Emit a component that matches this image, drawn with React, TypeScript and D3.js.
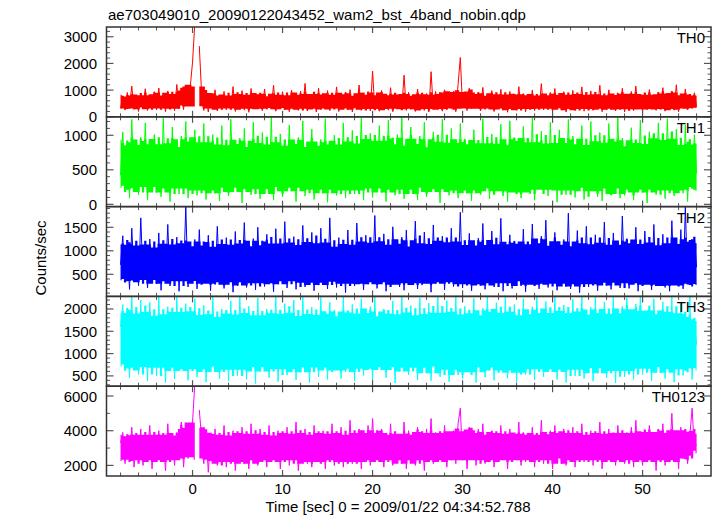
import React from "react";
import * as d3 from "d3";

// ---- data (sampling grid: t = T0 + DT * index) ----
const T0 = -8;
const DT = 0.25;

const panelNames = ["TH0", "TH1", "TH2", "TH3", "TH0123"];
const panelColors = ["#ff0000", "#00ff00", "#0000ff", "#00ffff", "#ff00ff"];
const yDomains: [number, number][] = [[0, 3365], [-33, 1268], [30, 1940], [269, 2282], [1389, 6565]];
const yMajorTicks = [[0, 1000, 2000, 3000], [0, 500, 1000], [500, 1000, 1500], [500, 1000, 1500, 2000], [2000, 4000, 6000]];
const yMinorSteps = [200, 100, 100, 100, 1000];
const xMajorTicks = [0, 10, 20, 30, 40, 50];

const th0: (number | null)[] = [
  320, 780, 250, 910, 410, 1150, 280, 690, 200, 860, 350, 1050, 240, 720, 380, 940,
  260, 1080, 310, 820, 190, 970, 430, 760, 230, 1210, 300, 880, 270, 990, 420, 1150,
  2050, 3500, null, 2650, 900, 240, 700, 180, 840, 330, 1010, 220, 760, 390, 950, 260,
  820, 310, 1130, 200, 690, 360, 980, 250, 870, 170, 1060, 300, 740, 410, 900, 230,
  1040, 280, 790, 350, 1180, 210, 680, 330, 940, 260, 850, 190, 1000, 370, 720, 240,
  960, 300, 1250, 220, 780, 340, 890, 180, 1070, 270, 730, 390, 980, 230, 860, 310,
  1120, 200, 760, 350, 930, 260, 1020, 180, 810, 320, 1190, 240, 700, 380, 950, 220,
  1710, 290, 840, 210, 990, 340, 760, 250, 1090, 190, 880, 300, 730, 360, 1560, 240,
  920, 280, 800, 200, 1040, 330, 760, 240, 870, 180, 1690, 290, 950, 350, 720, 210,
  1010, 260, 830, 310, 960, 190, 1210, 2220, 340, 880, 230, 1070, 300, 760, 380, 930,
  220, 1100, 270, 810, 350, 980, 200, 740, 310, 1030, 250, 860, 170, 950, 330, 790,
  240, 1130, 290, 870, 190, 760, 360, 1000, 230, 820, 300, 1240, 260, 700, 340, 910,
  200, 1060, 320, 780, 250, 940, 180, 850, 370, 990, 230, 730, 290, 1120, 210, 860,
  340, 970, 240, 760, 300, 1180, 190, 830, 260, 1010, 350, 720, 220, 900, 310, 1070,
  180, 800, 280, 950, 230, 1150, 330, 740, 200, 880, 270, 1020, 360, 690, 240, 930,
  290, 1090, 210, 780, 340, 960, 250, 1200, 190, 820, 310, 1040, 260, 740, 350, 900,
  380,
];

const th1: (number | null)[] = [
  420, 1050, 180, 880, 90, 1230, 300, 760, 140, 970, 250, 1180, 60, 820, 340, 1010,
  170, 900, 110, 1250, 280, 740, 40, 1120, 230, 860, 150, 990, 320, 1200, 90, 780,
  260, 1080, 130, 940, 200, 1170, 70, 830, 290, 1010, 160, 720, 50, 1140, 240, 890,
  120, 1230, 310, 800, 180, 960, 20, 1100, 270, 850, 140, 1190, 220, 760, 80, 1040,
  300, 910, 150, 1260, 60, 790, 250, 1020, 110, 880, 330, 1150, 190, 740, 40, 970,
  240, 1210, 120, 860, 280, 1090, 70, 780, 210, 940, 160, 1240, 30, 830, 300, 1000,
  130, 890, 250, 1180, 90, 760, 200, 1070, 150, 920, 320, 1250, 60, 810, 230, 1030,
  100, 960, 280, 1140, 170, 850, 40, 1220, 260, 790, 130, 1010, 210, 1260, 80, 880,
  290, 1120, 150, 770, 60, 990, 240, 1190, 110, 860, 310, 1050, 180, 740, 20, 1230,
  220, 930, 130, 1100, 270, 820, 90, 1170, 200, 950, 160, 780, 50, 1080, 300, 900,
  140, 1240, 230, 860, 80, 1020, 190, 750, 310, 1160, 120, 890, 40, 1210, 260, 970,
  170, 800, 90, 1130, 250, 940, 150, 1250, 60, 830, 290, 1060, 210, 770, 120, 1190,
  280, 910, 30, 1080, 200, 850, 140, 1230, 240, 990, 100, 760, 320, 1140, 70, 880,
  190, 1200, 260, 820, 110, 1040, 50, 930, 300, 1170, 150, 790, 230, 1260, 90, 960,
  130, 870, 270, 1110, 60, 780, 210, 1220, 170, 900, 20, 1050, 290, 830, 140, 1180,
  250, 990, 80, 1240, 200, 760, 120, 1090, 310, 880, 160, 1150, 40, 820, 230, 1010,
  450,
];

const th2: (number | null)[] = [
  700, 1320, 330, 1050, 180, 1480, 420, 1150, 260, 1700, 380, 980, 210, 1250, 450, 1100,
  300, 1380, 160, 1020, 400, 1560, 250, 1180, 350, 1290, 140, 1050, 470, 1940, 230, 1120,
  360, 1240, 190, 1450, 300, 990, 420, 1330, 150, 1100, 280, 1520, 390, 1060, 200, 1280,
  330, 1170, 120, 1410, 260, 1040, 440, 1600, 220, 1130, 370, 1260, 170, 1500, 310, 980,
  240, 1350, 400, 1090, 130, 1470, 290, 1190, 350, 1620, 210, 1010, 430, 1300, 180, 1150,
  380, 1540, 230, 1070, 320, 1390, 150, 1210, 270, 1480, 400, 1030, 190, 1700, 340, 1120,
  220, 1280, 360, 1010, 110, 1440, 300, 1160, 250, 1590, 420, 1080, 170, 1330, 290, 1220,
  390, 1750, 200, 1050, 330, 1360, 140, 1170, 280, 1510, 410, 1000, 230, 1290, 160, 1440,
  310, 1110, 380, 1630, 190, 1060, 270, 1400, 350, 1190, 120, 1550, 300, 1040, 420, 1310,
  170, 1230, 330, 1480, 240, 1090, 390, 1820, 210, 1140, 290, 1370, 150, 1060, 360, 1270,
  260, 1580, 180, 1030, 400, 1420, 230, 1160, 310, 1690, 140, 1100, 370, 1340, 200, 1210,
  350, 1020, 250, 1460, 130, 1180, 410, 1570, 280, 1070, 190, 1310, 330, 1650, 220, 1130,
  300, 1390, 160, 1050, 370, 1240, 240, 1800, 190, 1120, 340, 1430, 110, 1060, 290, 1520,
  230, 1180, 380, 1340, 150, 1010, 320, 1610, 260, 1150, 180, 1380, 400, 1090, 210, 1740,
  360, 1260, 200, 1050, 310, 1500, 140, 1200, 280, 1420, 390, 1030, 170, 1560, 250, 1140,
  330, 1350, 220, 1080, 140, 1640, 370, 1170, 260, 1450, 190, 1940, 310, 1100, 240, 1290,
  650,
];

const th3: (number | null)[] = [
  1600, 2100, 620, 1800, 450, 2280, 800, 1950, 530, 2200, 700, 1750, 390, 2150, 860, 1900,
  500, 2280, 680, 1700, 350, 2050, 760, 1850, 430, 2280, 610, 1980, 780, 2120, 400, 1800,
  650, 2230, 470, 1900, 820, 2080, 360, 1760, 590, 2280, 710, 1850, 440, 2000, 760, 1700,
  380, 2180, 640, 1930, 500, 2280, 820, 1780, 420, 2060, 700, 1880, 330, 2250, 600, 1820,
  730, 2000, 460, 1720, 800, 2280, 370, 1950, 650, 2120, 520, 1790, 880, 2200, 410, 1860,
  580, 2280, 720, 1810, 350, 2040, 690, 1900, 480, 2260, 800, 1750, 420, 2150, 620, 1980,
  760, 1880, 440, 2280, 590, 1760, 850, 2100, 380, 1940, 660, 2230, 510, 1820, 740, 2050,
  400, 2280, 630, 1850, 780, 2000, 460, 1700, 700, 2180, 340, 1930, 600, 2280, 820, 1790,
  520, 2080, 680, 1900, 410, 2250, 750, 1770, 560, 2130, 390, 1860, 710, 2280, 480, 1950,
  800, 2190, 370, 1800, 640, 2280, 520, 1920, 430, 2060, 760, 1740, 580, 2240, 350, 1880,
  690, 2020, 470, 2280, 810, 1830, 400, 2140, 620, 1960, 740, 2280, 450, 1790, 570, 2100,
  360, 1900, 700, 2230, 530, 1780, 820, 2050, 410, 2280, 650, 1850, 480, 2170, 760, 1940,
  590, 2280, 420, 1810, 730, 2090, 350, 1970, 640, 2220, 500, 1760, 790, 2280, 440, 1890,
  670, 2040, 380, 2280, 560, 1840, 810, 2160, 460, 1920, 720, 2280, 340, 1800, 610, 2060,
  480, 2250, 750, 1870, 420, 2110, 660, 2280, 530, 1780, 800, 2000, 390, 2230, 700, 1910,
  570, 2160, 440, 1830, 780, 2280, 360, 1950, 650, 2120, 510, 1790, 730, 2280, 420, 1700,
  1200,
];

const th0123: (number | null)[] = [
  3300, 3900, 2100, 3700, 2400, 4200, 1900, 3600, 2300, 4100, 2000, 3800, 2500, 4300, 1800, 3700,
  2200, 4000, 2600, 3500, 1700, 4400, 2300, 3800, 2000, 3900, 2500, 4500, 1900, 3600, 2400, 4200,
  4500, 6700, null, 5200, 3600, 2100, 3900, 1600, 3700, 2400, 4100, 2000, 3500, 2300, 4300, 1900,
  3800, 2200, 4000, 1700, 3600, 2500, 4200, 2100, 3900, 1800, 4400, 2300, 3700, 2000, 4100, 2400,
  3500, 1900, 4300, 2200, 3800, 2600, 4000, 1800, 3600, 2300, 4200, 2000, 3900, 2500, 4500, 1700,
  3700, 2400, 4100, 2100, 3800, 1900, 4300, 2200, 3600, 2500, 4000, 1800, 3900, 2300, 4400, 2000,
  3700, 2600, 4200, 1900, 3800, 2200, 4600, 2100, 3500, 2400, 4100, 1800, 3900, 2300, 4300, 2000,
  4700, 2200, 3800, 2500, 4100, 1900, 3700, 2300, 4400, 2000, 3900, 2600, 3600, 2100, 4500, 1800,
  4000, 2400, 3700, 2000, 4200, 2300, 3800, 1700, 4100, 2500, 4700, 2100, 3900, 2200, 3600, 2400,
  4300, 1900, 3800, 2300, 4000, 2100, 4400, 5300, 2300, 3900, 1800, 4200, 2500, 3700, 2000, 4100,
  2300, 4400, 2100, 3800, 2600, 4000, 1900, 3700, 2200, 4300, 2400, 3900, 1800, 4100, 2300, 3600,
  2500, 4500, 2000, 3900, 2200, 3700, 2400, 4200, 1900, 3800, 2300, 4600, 2100, 3600, 2500, 4000,
  1800, 4300, 2400, 3800, 2100, 4100, 2000, 3900, 2500, 4200, 1900, 3700, 2300, 4400, 2200, 3800,
  2600, 4000, 2000, 3700, 2300, 4500, 1800, 3900, 2400, 4100, 2200, 3600, 2000, 4300, 2500, 3800,
  2100, 3900, 2300, 4200, 1900, 4600, 2400, 3700, 2000, 4000, 2200, 4300, 2500, 3800, 1700, 4100,
  2300, 4400, 2000, 3800, 2500, 5000, 2200, 3900, 1800, 4200, 2400, 4100, 2100, 3700, 5300, 3000,
  3200,
];

const series = [th0, th1, th2, th3, th0123];

const TITLE = "ae703049010_20090122043452_wam2_bst_4band_nobin.qdp";
const XLABEL = "Time [sec] 0 = 2009/01/22 04:34:52.788";
const YLABEL = "Counts/sec";

// ---- layout ----
const W = 717;
const H = 516;
const LEFT = 106.5;
const RIGHT = 711;
const TOP = 27;
const BOTTOM = 476;
const PH = (BOTTOM - TOP) / 5;
const FONT = "'Liberation Sans', Arial, Helvetica, sans-serif";

// dense core of the light curve: rolling inter-quartile band of the samples
function coreBand(data: (number | null)[]) {
  return data.map((v, i) => {
    if (v == null) return null;
    const w = data
      .slice(Math.max(0, i - 6), i + 7)
      .filter((u) => u != null) as number[];
    w.sort((a, b) => a - b);
    return { lo: d3.quantile(w, 0.25) as number, hi: d3.quantile(w, 0.72) as number };
  });
}

export default function App() {
  const x = d3.scaleLinear().domain([-9.56, 57.6]).range([LEFT, RIGHT]);
  const xMinor = d3.range(-8, 58, 2).filter((v) => v % 10 !== 0 && x(v) > LEFT && x(v) < RIGHT);

  return (
    <svg width={W} height={H} style={{ position: "absolute", left: 0, top: 0, background: "#fff" }}>
      <defs>
        {panelNames.map((n, i) => (
          <clipPath id={`clip${i}`} key={n}>
            <rect x={LEFT} y={TOP + i * PH} width={RIGHT - LEFT} height={PH} />
          </clipPath>
        ))}
      </defs>
      <text x={108} y={20} fontFamily={FONT} fontSize={15} fill="#000">{TITLE}</text>
      {panelNames.map((name, i) => {
        const y0 = TOP + i * PH;
        const y1 = y0 + PH;
        const dom = yDomains[i];
        const y = d3.scaleLinear().domain(dom).range([y1, y0]);
        const data = series[i];
        const band = coreBand(data);
        const line = d3
          .line<number | null>()
          .defined((v) => v != null)
          .x((_, j) => x(T0 + DT * j))
          .y((v) => y(v as number));
        const area = d3
          .area<{ lo: number; hi: number } | null>()
          .defined((b) => b != null)
          .curve(d3.curveStep)
          .x((_, j) => x(T0 + DT * j))
          .y0((b) => y(b!.lo))
          .y1((b) => y(b!.hi));
        const majors = yMajorTicks[i];
        const majStep = majors[1] - majors[0];
        const mstep = yMinorSteps[i];
        const minors = d3
          .range(Math.ceil(dom[0] / mstep) * mstep, dom[1], mstep)
          .filter((v) => Math.abs(v / majStep - Math.round(v / majStep)) > 1e-6);
        return (
          <g key={name}>
            <g clipPath={`url(#clip${i})`}>
              <path d={area(band) || ""} fill={panelColors[i]} />
              <path d={line(data) || ""} fill="none" stroke={panelColors[i]} strokeWidth={1} />
            </g>
            {xMajorTicks.map((t) => (
              <g key={`xm${t}`} stroke="#555" strokeWidth={1.2}>
                <line x1={x(t)} x2={x(t)} y1={y0} y2={y0 + 6} />
                <line x1={x(t)} x2={x(t)} y1={y1} y2={y1 - 6} />
              </g>
            ))}
            {xMinor.map((t) => (
              <g key={`xn${t}`} stroke="#555" strokeWidth={1}>
                <line x1={x(t)} x2={x(t)} y1={y0} y2={y0 + 3.5} />
                <line x1={x(t)} x2={x(t)} y1={y1} y2={y1 - 3.5} />
              </g>
            ))}
            {majors.map((v) => (
              <g key={`ym${v}`} stroke="#555" strokeWidth={1.2}>
                <line x1={LEFT} x2={LEFT + 7} y1={y(v)} y2={y(v)} />
                <line x1={RIGHT} x2={RIGHT - 7} y1={y(v)} y2={y(v)} />
              </g>
            ))}
            {minors.map((v) => (
              <g key={`yn${v}`} stroke="#555" strokeWidth={1}>
                <line x1={LEFT} x2={LEFT + 3.5} y1={y(v)} y2={y(v)} />
                <line x1={RIGHT} x2={RIGHT - 3.5} y1={y(v)} y2={y(v)} />
              </g>
            ))}
            {majors.map((v) => (
              <text key={`yl${v}`} x={97} y={y(v) + 5.5} textAnchor="end" fontFamily={FONT} fontSize={15} fill="#000">
                {v}
              </text>
            ))}
            <text x={705} y={y0 + 16} textAnchor="end" fontFamily={FONT} fontSize={15} fill="#000">
              {name}
            </text>
          </g>
        );
      })}
      {panelNames.map((n, i) => (
        <rect key={`f${n}`} x={LEFT} y={TOP + i * PH} width={RIGHT - LEFT} height={PH} fill="none" stroke="#333" strokeWidth={1.5} />
      ))}
      {xMajorTicks.map((t) => (
        <text key={`xl${t}`} x={x(t)} y={494} textAnchor="middle" fontFamily={FONT} fontSize={15} fill="#000">
          {t}
        </text>
      ))}
      <text x={398} y={512} textAnchor="middle" fontFamily={FONT} fontSize={15} fill="#000">{XLABEL}</text>
      <text transform={`translate(46,${258}) rotate(-90)`} textAnchor="middle" fontFamily={FONT} fontSize={15} fill="#000">
        {YLABEL}
      </text>
    </svg>
  );
}
